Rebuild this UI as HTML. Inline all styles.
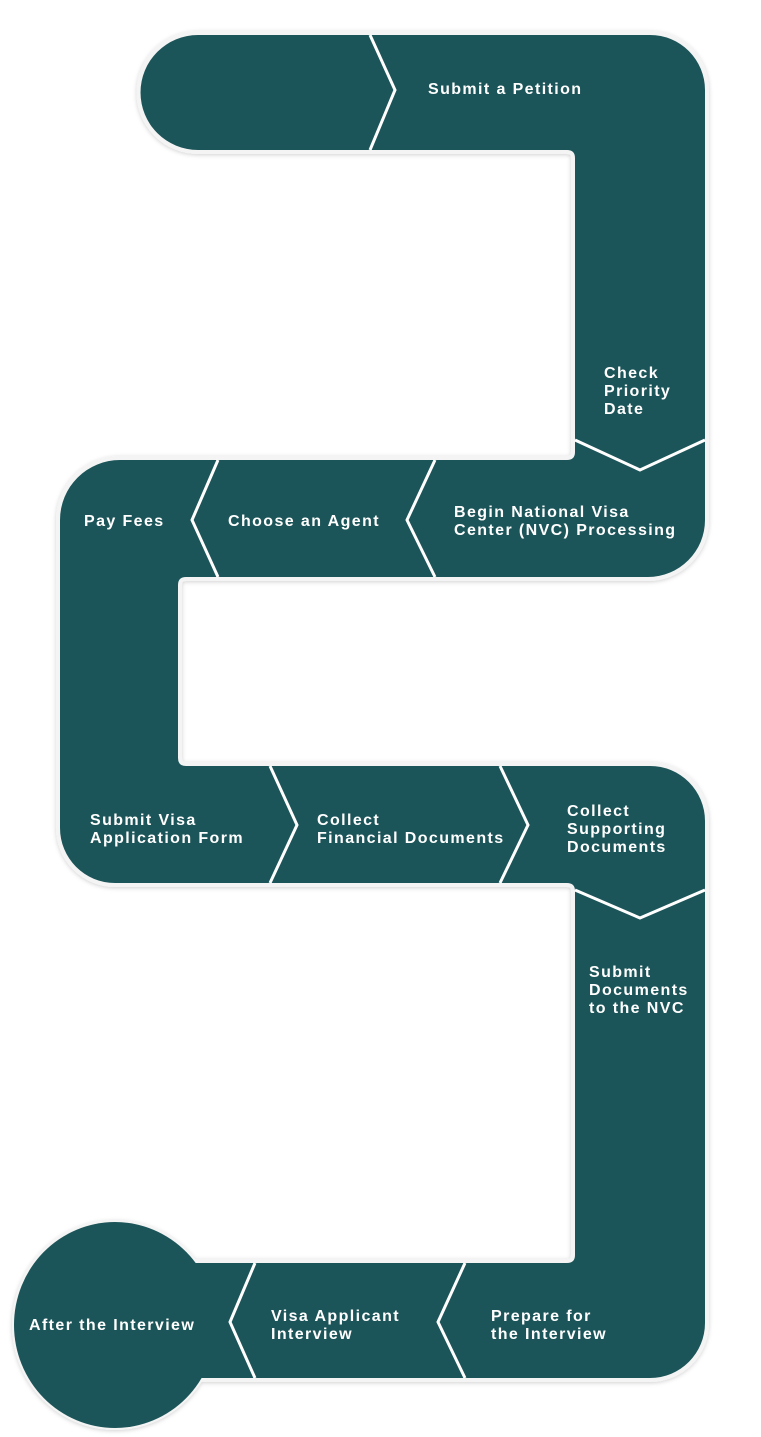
<!DOCTYPE html>
<html><head><meta charset="utf-8"><style>
html,body{margin:0;padding:0;background:#fff;}
svg{display:block}
text{font-family:"Liberation Sans",sans-serif;font-weight:bold;font-size:16px;fill:#fff;letter-spacing:1.4px}
</style></head><body>
<svg width="761" height="1437" viewBox="0 0 761 1437" xmlns="http://www.w3.org/2000/svg">
<defs>
<filter id="sh" x="-10%" y="-10%" width="120%" height="120%"><feDropShadow dx="0" dy="1" stdDeviation="2" flood-color="#000" flood-opacity="0.18"/></filter>
</defs>
<g filter="url(#sh)">
<path d="M198,35 H650 A55,55 0 0 1 705,90 V520 A57,57 0 0 1 648,577 H186 Q178,577 178,585 V758 Q178,766 186,766 H650 A55,55 0 0 1 705,821 V1323 A55,55 0 0 1 650,1378 H150 V1263 H567 Q575,1263 575,1255 V891 Q575,883 567,883 H115 A55,55 0 0 1 60,828 V520 A60,60 0 0 1 120,460 H567 Q575,460 575,452 V158 Q575,150 567,150 H198 A57.5,57.5 0 0 1 198,35 Z" fill="#1c5559" stroke="#f4f4f4" stroke-width="8" stroke-linejoin="round"/>
<ellipse cx="115" cy="1325" rx="101" ry="103" fill="#1c5559" stroke="#f4f4f4" stroke-width="4"/>
</g>
<path d="M198,35 H650 A55,55 0 0 1 705,90 V520 A57,57 0 0 1 648,577 H186 Q178,577 178,585 V758 Q178,766 186,766 H650 A55,55 0 0 1 705,821 V1323 A55,55 0 0 1 650,1378 H150 V1263 H567 Q575,1263 575,1255 V891 Q575,883 567,883 H115 A55,55 0 0 1 60,828 V520 A60,60 0 0 1 120,460 H567 Q575,460 575,452 V158 Q575,150 567,150 H198 A57.5,57.5 0 0 1 198,35 Z" fill="#1c5559"/>
<ellipse cx="115" cy="1325" rx="101" ry="103" fill="#1c5559"/>
<g fill="none" stroke="#fff" stroke-width="3">
<polyline points="370,35 395,90 370,150"/>
<polyline points="575,440 640,470 705,440"/>
<polyline points="435,460 407,520 435,577"/>
<polyline points="218,460 192,520 218,577"/>
<polyline points="270,766 297,825 270,883"/>
<polyline points="500,766 528,825 500,883"/>
<polyline points="575,890 640,918 705,890"/>
<polyline points="465,1263 438,1322 465,1378"/>
<polyline points="255,1263 230,1322 255,1378"/>
</g>
<text x="428" y="94">Submit a Petition</text>
<text x="604" y="378">Check</text><text x="604" y="396">Priority</text><text x="604" y="414">Date</text>
<text x="84" y="526">Pay Fees</text>
<text x="228" y="526">Choose an Agent</text>
<text x="454" y="517">Begin National Visa</text><text x="454" y="535">Center (NVC) Processing</text>
<text x="90" y="825">Submit Visa</text><text x="90" y="843">Application Form</text>
<text x="317" y="825">Collect</text><text x="317" y="843">Financial Documents</text>
<text x="567" y="816">Collect</text><text x="567" y="834">Supporting</text><text x="567" y="852">Documents</text>
<text x="589" y="977">Submit</text><text x="589" y="995">Documents</text><text x="589" y="1013">to the NVC</text>
<text x="29" y="1330">After the Interview</text>
<text x="271" y="1321">Visa Applicant</text><text x="271" y="1339">Interview</text>
<text x="491" y="1321">Prepare for</text><text x="491" y="1339">the Interview</text>
</svg>
</body></html>
